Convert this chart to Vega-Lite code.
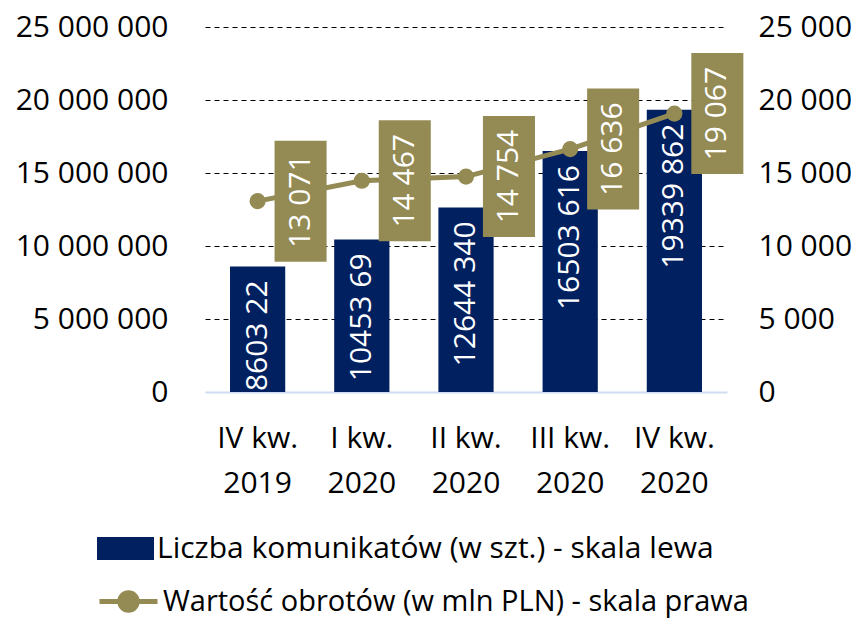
{
  "$schema": "https://vega.github.io/schema/vega-lite/v6.json",
  "width": 522,
  "height": 365,
  "autosize": {"type": "none"},
  "padding": {"left": 205, "top": 27, "right": 130, "bottom": 228},
  "background": "white",
  "config": {
    "view": {"stroke": null},
    "font": "Open Sans",
    "legend": {"padding": 0, "titlePadding": 0}
  },
  "data": {
    "values": [
      {"q": "IV kw. 2019", "count": 8603221, "count_label": "8603 22", "value": 13071, "value_label": "13 071", "s1": "Liczba komunikatów (w szt.) - skala lewa", "s2": "Wartość obrotów (w mln PLN) - skala prawa"},
      {"q": "I kw. 2020", "count": 10453697, "count_label": "10453 69", "value": 14467, "value_label": "14 467", "s1": "Liczba komunikatów (w szt.) - skala lewa", "s2": "Wartość obrotów (w mln PLN) - skala prawa"},
      {"q": "II kw. 2020", "count": 12644340, "count_label": "12644 340", "value": 14754, "value_label": "14 754", "s1": "Liczba komunikatów (w szt.) - skala lewa", "s2": "Wartość obrotów (w mln PLN) - skala prawa"},
      {"q": "III kw. 2020", "count": 16503616, "count_label": "16503 616", "value": 16636, "value_label": "16 636", "s1": "Liczba komunikatów (w szt.) - skala lewa", "s2": "Wartość obrotów (w mln PLN) - skala prawa"},
      {"q": "IV kw. 2020", "count": 19339862, "count_label": "19339 862", "value": 19067, "value_label": "19 067", "s1": "Liczba komunikatów (w szt.) - skala lewa", "s2": "Wartość obrotów (w mln PLN) - skala prawa"}
    ]
  },
  "encoding": {
    "x": {
      "field": "q",
      "type": "nominal",
      "sort": null,
      "scale": {"paddingInner": 0.47, "paddingOuter": 0.24},
      "axis": {
        "title": null,
        "labelAngle": 0,
        "labelExpr": "[slice(datum.label, 0, -5), slice(datum.label, -4)]",
        "labelFontSize": 30,
        "labelLineHeight": 45,
        "labelColor": "#000",
        "labelPadding": 46,
        "labelBaseline": "middle",
        "ticks": false,
        "domainColor": "#D0DCEF",
        "domainWidth": 2
      }
    }
  },
  "layer": [
    {
      "layer": [
        {
          "mark": {"type": "bar"},
          "encoding": {
            "y": {
              "field": "count",
              "type": "quantitative",
              "scale": {"domain": [0, 25000000], "nice": false},
              "axis": {
                "orient": "left",
                "title": null,
                "values": [0, 5000000, 10000000, 15000000, 20000000, 25000000],
                "labelExpr": "replace(format(datum.value, ','), regexp(',', 'g'), ' ')",
                "labelFontSize": 30,
                "labelColor": "#000",
                "labelPadding": 37,
                "domain": false,
                "ticks": false,
                "grid": true,
                "gridColor": "#000",
                "gridDash": [5, 4],
                "gridWidth": 1,
                "gridOpacity": {"condition": {"test": "datum.value === 0", "value": 0}, "value": 1}
              }
            },
            "fill": {
              "field": "s1",
              "type": "nominal",
              "scale": {"range": ["#002060"]},
              "legend": {
                "title": null,
                "orient": "none",
                "legendX": -108,
                "legendY": 493,
                "symbolType": "M-1,-0.4L1,-0.4L1,0.4L-1,0.4Z",
                "symbolSize": 3249,
                "symbolStrokeWidth": 0,
                "labelFontSize": 30,
                "labelColor": "#000",
                "labelOffset": 3,
                "labelLimit": 800
              }
            }
          }
        },
        {
          "mark": {"type": "text", "angle": 270, "align": "right", "baseline": "middle", "dx": -14, "color": "white", "fontSize": 30},
          "encoding": {
            "y": {"field": "count", "type": "quantitative"},
            "text": {"field": "count_label", "type": "nominal"}
          }
        }
      ]
    },
    {
      "layer": [
        {
          "mark": {"type": "line", "strokeWidth": 5},
          "encoding": {
            "y": {
              "field": "value",
              "type": "quantitative",
              "scale": {"domain": [0, 25000], "nice": false},
              "axis": {
                "orient": "right",
                "title": null,
                "values": [0, 5000, 10000, 15000, 20000, 25000],
                "labelExpr": "replace(format(datum.value, ','), regexp(',', 'g'), ' ')",
                "labelFontSize": 30,
                "labelColor": "#000",
                "labelPadding": 31,
                "domain": false,
                "ticks": false,
                "grid": false
              }
            },
            "stroke": {
              "field": "s2",
              "type": "nominal",
              "scale": {"range": ["#948A54"]},
              "legend": {
                "title": null,
                "orient": "none",
                "legendX": -108,
                "legendY": 543,
                "symbolType": "M-1,0L1,0M-0.3,0A0.3,0.3 0 1,1 0.3,0A0.3,0.3 0 1,1 -0.3,0Z",
                "symbolSize": 3364,
                "symbolStrokeWidth": 5,
                "symbolFillColor": "#948A54",
                "labelFontSize": 29,
                "labelColor": "#000",
                "labelOffset": 3,
                "labelLimit": 800
              }
            }
          }
        },
        {
          "mark": {"type": "point", "filled": true, "size": 260, "opacity": 1, "color": "#948A54"},
          "encoding": {"y": {"field": "value", "type": "quantitative"}}
        },
        {
          "mark": {"type": "point", "shape": "M0.28,-1L1.14,-1L1.14,1L0.28,1Z", "filled": true, "size": 14641, "opacity": 1, "color": "#948A54"},
          "encoding": {"y": {"field": "value", "type": "quantitative"}}
        },
        {
          "mark": {"type": "text", "angle": 270, "align": "center", "baseline": "middle", "dy": 43, "color": "white", "fontSize": 30},
          "encoding": {
            "y": {"field": "value", "type": "quantitative"},
            "text": {"field": "value_label", "type": "nominal"}
          }
        }
      ]
    }
  ],
  "resolve": {"scale": {"y": "independent"}}
}
